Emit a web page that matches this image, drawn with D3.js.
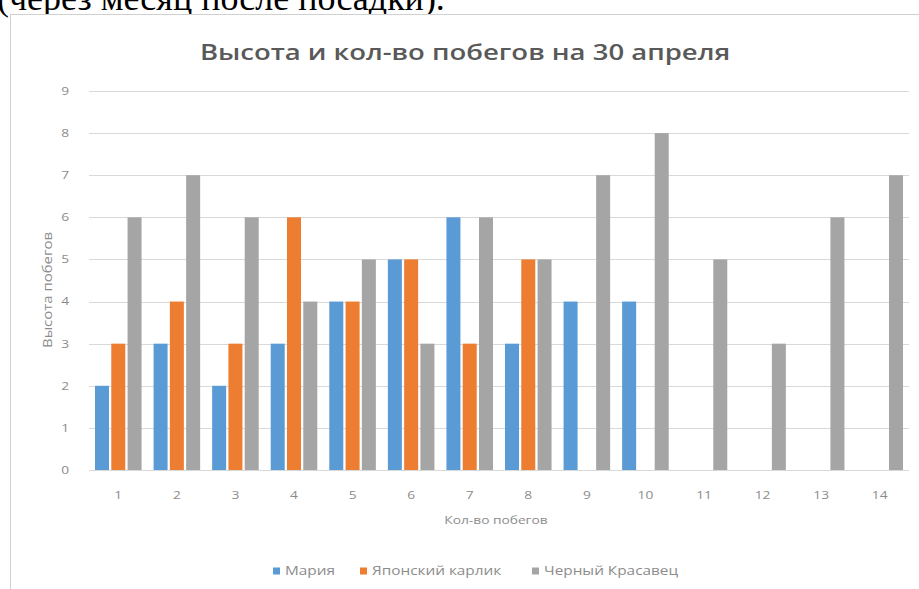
<!DOCTYPE html>
<html>
<head>
<meta charset="utf-8">
<script src="https://cdn.jsdelivr.net/npm/d3@7"></script>
<style>
  html, body { margin: 0; padding: 0; background: #fff; overflow: hidden; }
  svg { display: block; }
</style>
</head>
<body>
<svg id="chart" width="919" height="589"></svg>
<script>
// Shoot counts (categories) and plant heights per variety
const categories = ["1","2","3","4","5","6","7","8","9","10","11","12","13","14"];
const seriesNames = ["Мария", "Японский карлик", "Черный Красавец"];
const maria    = [2, 3, 2, 3, 4, 5, 6, 3, 4, 4, 0, 0, 0, 0];
const japanese = [3, 4, 3, 6, 4, 5, 3, 5, 0, 0, 0, 0, 0, 0];
const black    = [6, 7, 6, 4, 5, 3, 6, 5, 7, 8, 5, 3, 6, 7];
const yTicks   = [0, 1, 2, 3, 4, 5, 6, 7, 8, 9];
const colors   = ["#5B9BD5", "#ED7D31", "#A5A5A5"];

const seriesValues = [maria, japanese, black];

const svg = d3.select("#chart");
const W = 919, H = 589;
const plot = { left: 89, right: 909, top: 91, bottom: 470 };
const FONT = "'Open Sans', sans-serif";
const STRETCH = 1.25;   // chart text is drawn slightly widened
const TEXT_GRAY = "#8c8c8c";

// Place a text node at (x, y) with horizontal widening
function placed(sel, x, y, sx) {
  return sel.attr("x", 0).attr("y", 0)
    .attr("transform", `translate(${x},${y}) scale(${sx},1)`);
}

// Caption line from the surrounding document, clipped at the top edge
svg.append("text")
  .attr("x", -3).attr("y", 10)
  .attr("font-family", "'Liberation Serif', 'Times New Roman', serif")
  .attr("font-size", 36)
  .attr("fill", "#000")
  .text("(через месяц после посадки).");

// Chart frame
svg.append("rect")
  .attr("x", 10.5).attr("y", 14.5)
  .attr("width", W).attr("height", H)
  .attr("fill", "#fff")
  .attr("stroke", "#d0d0d0");

const x0 = d3.scaleBand()
  .domain(categories)
  .range([plot.left, plot.right])
  .paddingInner(0.205)
  .paddingOuter(0.1025);

const x1 = d3.scaleBand()
  .domain(seriesNames)
  .range([0, x0.bandwidth()])
  .paddingInner(0.14);

const y = d3.scaleLinear().domain([0, 9]).range([plot.bottom, plot.top]);

// Horizontal gridlines
svg.append("g")
  .selectAll("line")
  .data(yTicks)
  .join("line")
  .attr("x1", plot.left).attr("x2", plot.right)
  .attr("y1", d => Math.round(y(d)) + 0.5)
  .attr("y2", d => Math.round(y(d)) + 0.5)
  .attr("stroke", "#d9d9d9")
  .attr("stroke-width", 1);

// Y tick labels
svg.append("g")
  .selectAll("text")
  .data(yTicks)
  .join("text")
  .call(sel => sel.each(function (d) {
    placed(d3.select(this), 69, y(d), STRETCH);
  }))
  .attr("dy", "0.35em")
  .attr("text-anchor", "end")
  .attr("font-family", FONT)
  .attr("font-size", 11)
  .attr("fill", TEXT_GRAY)
  .text(d => d);

// Bars
const groups = svg.append("g")
  .selectAll("g")
  .data(categories)
  .join("g")
  .attr("transform", d => `translate(${x0(d)},0)`);

groups.selectAll("rect")
  .data((d, i) => seriesNames.map((s, k) => ({ s, k, v: seriesValues[k][i] })))
  .join("rect")
  .attr("x", d => x1(d.s))
  .attr("width", x1.bandwidth())
  .attr("y", d => y(d.v))
  .attr("height", d => y(0) - y(d.v))
  .attr("fill", d => colors[d.k]);

// Baseline
svg.append("line")
  .attr("x1", plot.left).attr("x2", plot.right)
  .attr("y1", Math.round(y(0)) + 0.5).attr("y2", Math.round(y(0)) + 0.5)
  .attr("stroke", "#d9d9d9");

// X tick labels
svg.append("g")
  .selectAll("text")
  .data(categories)
  .join("text")
  .call(sel => sel.each(function (d) {
    placed(d3.select(this), x0(d) + x0.bandwidth() / 2, 495, STRETCH);
  }))
  .attr("dy", "0.35em")
  .attr("text-anchor", "middle")
  .attr("font-family", FONT)
  .attr("font-size", 11)
  .attr("fill", TEXT_GRAY)
  .text(d => d);

// Title
placed(svg.append("text"), 465, 60, STRETCH)
  .attr("text-anchor", "middle")
  .attr("font-family", FONT)
  .attr("font-weight", 600)
  .attr("font-size", 22)
  .attr("fill", "#595959")
  .text("Высота и кол-во побегов на 30 апреля");

// Axis titles
placed(svg.append("text"), 496, 520, STRETCH)
  .attr("dy", "0.35em")
  .attr("text-anchor", "middle")
  .attr("font-family", FONT)
  .attr("font-size", 11)
  .attr("fill", TEXT_GRAY)
  .text("Кол-во побегов");

svg.append("text")
  .attr("transform", `translate(47,290) rotate(-90) scale(1.15,1)`)
  .attr("dy", "0.35em")
  .attr("text-anchor", "middle")
  .attr("font-family", FONT)
  .attr("font-size", 13)
  .attr("fill", TEXT_GRAY)
  .text("Высота побегов");

// Legend
const legendX = [273, 360, 532];
const legend = svg.append("g")
  .selectAll("g")
  .data(seriesNames)
  .join("g")
  .attr("transform", (d, i) => `translate(${legendX[i]},571)`);

legend.append("rect")
  .attr("x", 0).attr("y", -3.5)
  .attr("width", 7).attr("height", 7)
  .attr("fill", (d, i) => colors[i]);

legend.append("text")
  .attr("transform", `translate(12,0) scale(1.28,1)`)
  .attr("dy", "0.35em")
  .attr("font-family", FONT)
  .attr("font-size", 12)
  .attr("fill", TEXT_GRAY)
  .text(d => d);
</script>
</body>
</html>
